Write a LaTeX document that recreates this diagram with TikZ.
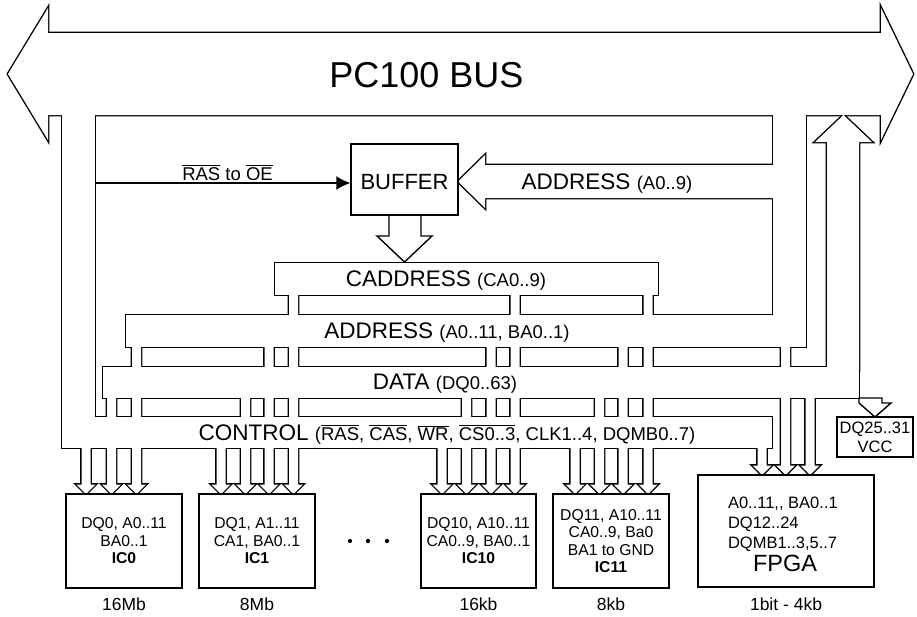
\documentclass[tikz,border=0pt]{standalone}
\usepackage{fontspec}
\setmainfont{Liberation Sans}
\usetikzlibrary{arrows.meta}
\newcommand\fsz[1]{\fontsize{#1}{#1}\selectfont}
\newcommand\ovl[1]{\ensuremath{\overline{\mbox{#1}}}}
\newcommand\busunion[1]{%
  % PC100 bus
  \path[#1] (48,33) -- (48,8) -- (8,74) -- (48,140) -- (48,115) -- (881,115) -- (881,140) -- (913,74) -- (881,8) -- (881,33) -- cycle;
  % control channel
  \path[#1] (62,100) rectangle (95,448);
  \path[#1] (62,417) rectangle (772,448);
  % address channel
  \path[#1] (773,100) rectangle (806,347);
  \path[#1] (126,315) rectangle (806,347);
  \path[#1] (790,165) -- (485,165) -- (485,155) -- (458,181.5) -- (485,208) -- (485,198) -- (790,198) -- cycle;
  % caddress
  \path[#1] (275,263) rectangle (658,295);
  % data
  \path[#1] (827,370) -- (827,142) -- (815,142) -- (843.5,115) -- (872,142) -- (859,142) -- (859,370) -- cycle;
  \path[#1] (103,367) rectangle (859,398);
  % stubs
  \foreach \cx/\yt/\tp in {86/440/494, 111.5/390/494, 136.5/340/494,
      221/440/494, 245.5/390/494, 269/340/494, 293.5/288/494,
      442/440/494, 466.5/390/494, 491/340/494, 515/288/494,
      575/440/494, 599.5/390/494, 623/340/494, 648/288/494,
      762/440/475, 785.5/340/475, 810/390/475}{%
    \path[#1] ({\cx-4.5},\yt) -- ({\cx-4.5},{\tp-9.5}) -- ({\cx-9.5},{\tp-9.5}) -- (\cx,\tp)
      -- ({\cx+9.5},{\tp-9.5}) -- ({\cx+4.5},{\tp-9.5}) -- ({\cx+4.5},\yt) -- cycle;
  }%
}
\tikzset{
  lw/.style={line width=1.4pt},
  box/.style={draw, lw, fill=white, inner sep=0pt, align=center},
  txt/.style={inner sep=0pt, outer sep=0pt},
}
\begin{document}
\begin{tikzpicture}[x=1pt, y=-1pt, line join=miter]
\useasboundingbox[fill=white] (0,0) rectangle (917,616);
\busunion{draw=black, line width=2.8pt}
\busunion{fill=white}

% buffer and its arrows
\node[box, minimum width=107pt, minimum height=71pt] (buffer) at (404.5,179.5) {};
\node[txt, anchor=base] (buftxt) at (404.5,189) {\fsz{22}BUFFER};
\draw[lw] (389,215) -- (389,236) -- (377,236) -- (404.5,262) -- (432,236) -- (421,236) -- (421,215);
\coordinate (ras) at (95,183);
\draw[lw, -{Latex[length=14pt,width=14pt]}] (ras) -- (ras -| buffer.west);

% DQ25 arrow
\draw[lw] (859,398) -- (882,398) -- (882,403) -- (891,403) -- (875,417) -- (859,403) -- cycle;

% labels on buses
\node[txt, anchor=base] (pcbus) at (426.5,87) {\fsz{36}PC100 BUS};
\node[txt, anchor=base] (rastxt) at (227.5,180) {\fsz{18.5}\ovl{RAS} to \ovl{OE}};
\node[txt, anchor=base] (addr9) at (607,189) {\fsz{22.5}ADDRESS \fsz{18.5}(A0..9)};
\node[txt, anchor=base] (caddr) at (446,286) {\fsz{22.5}CADDRESS \fsz{18.5}(CA0..9)};
\node[txt, anchor=base] (addr) at (447,338) {\fsz{22.5}ADDRESS \fsz{18.5}(A0..11, BA0..1)};
\node[txt, anchor=base] (data) at (445,389) {\fsz{22.5}DATA \fsz{18.5}(DQ0..63)};
\node[txt, anchor=base] (ctrl) at (447,440) {\fsz{22.5}CONTROL \fsz{18.5}(\ovl{RAS}, \ovl{CAS}, \ovl{WR}, \ovl{CS0..3}, CLK1..4, DQMB0..7)};

% chips
\node[box, minimum width=116pt, minimum height=94pt, font=\fontsize{15.7}{17.5}\selectfont] (ic0) at (124,541) {DQ0, A0..11\\BA0..1\\\textbf{IC0}};
\node[box, minimum width=116pt, minimum height=94pt, font=\fontsize{15.7}{17.5}\selectfont] (ic1) at (257,541) {DQ1, A1..11\\CA1, BA0..1\\\textbf{IC1}};
\node[box, minimum width=115pt, minimum height=94pt, font=\fontsize{15.7}{17.5}\selectfont] (ic10) at (478.5,541) {DQ10, A10..11\\CA0..9, BA0..1\\\textbf{IC10}};
\node[box, minimum width=116pt, minimum height=94pt, font=\fontsize{15.7}{17.5}\selectfont] (ic11) at (611,541) {DQ11, A10..11\\CA0..9, Ba0\\BA1 to GND\\\textbf{IC11}};
\node[box, minimum width=176pt, minimum height=112pt] (fpga) at (786,531) {};
\node[txt, anchor=base west] (f1) at (728,508) {\fsz{16.5}A0..11,{},{} BA0..1};
\node[txt, anchor=base west] (f2) at (728,528) {\fsz{16.5}DQ12..24};
\node[txt, anchor=base west] (f3) at (728,548) {\fsz{16.5}DQMB1..3,5..7};
\node[txt, anchor=base] (f4) at (785,571) {\fsz{23.5}FPGA};
\node[box, minimum width=76pt, minimum height=40pt, font=\fontsize{16.5}{19}\selectfont] (dq) at (875,437) {DQ25..31\\VCC};

% dots
\foreach \dx [count=\i] in {350,368,387} \fill (\dx,541) circle (2.1pt) coordinate (dot\i);

% sizes
\node[txt, anchor=base] (s0) at (124,610) {\fsz{17.5}16Mb};
\node[txt, anchor=base] (s1) at (257,610) {\fsz{17.5}8Mb};
\node[txt, anchor=base] (s10) at (478.5,610) {\fsz{17.5}16kb};
\node[txt, anchor=base] (s11) at (611,610) {\fsz{17.5}8kb};
\node[txt, anchor=base] (sf) at (786,610) {\fsz{17.5}1bit - 4kb};
\end{tikzpicture}
\end{document}
